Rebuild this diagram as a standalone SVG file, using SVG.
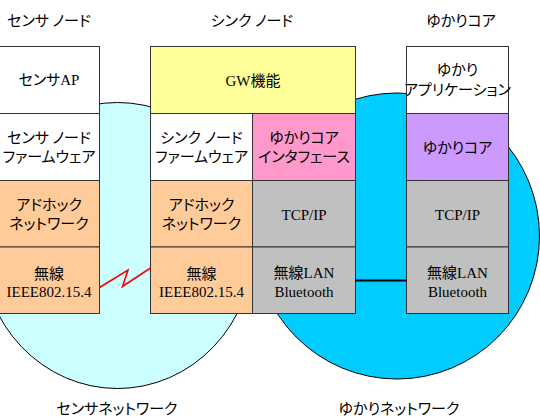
<svg xmlns="http://www.w3.org/2000/svg" width="540" height="417" viewBox="0 0 540 417">
<style>
.t{font-family:"Noto Sans CJK JP","Noto Sans",sans-serif;font-size:15px;font-feature-settings:"palt";text-anchor:middle;fill:#000}
.l{font-family:"Liberation Serif","Times New Roman",serif;font-feature-settings:normal}
.b{stroke:#333;stroke-width:1}
.net{stroke:#000;stroke-width:1}
</style>
<rect width="540" height="417" fill="#fff"/>
<g id="sensor-network">
<ellipse class="net" cx="117.5" cy="245.5" rx="136" ry="143" fill="#CCFFFF"/>
<text class="t" x="117" y="414">センサネットワーク</text>
</g>
<g id="yukari-network">
<ellipse class="net" cx="397" cy="236" rx="142.5" ry="143" fill="#00CCFF"/>
<text class="t" x="399" y="414">ゆかりネットワーク</text>
</g>
<g id="sensor-node">
<text class="t" x="49" y="26">センサ ノード</text>
<rect class="b" x="-1" y="46.5" width="100.5" height="67" fill="#fff"/>
<text class="t" x="49" y="85">センサ<tspan class="l">AP</tspan></text>
<rect class="b" x="-1" y="113.5" width="100.5" height="67" fill="#fff"/>
<text class="t" x="49" y="143">センサ ノード</text>
<text class="t" x="49" y="162">ファームウェア</text>
<rect class="b" x="-1" y="180.5" width="100.5" height="66.5" fill="#FFCC99"/>
<text class="t" x="49" y="210">アドホック</text>
<text class="t" x="49" y="229">ネットワーク</text>
<rect class="b" x="-1" y="247" width="100.5" height="66.5" fill="#FFCC99"/>
<text class="t" x="49" y="278.5">無線</text>
<text class="t l" x="49" y="297">IEEE802.15.4</text>
</g>
<g id="sink-node">
<text class="t" x="252" y="26">シンク ノード</text>
<rect class="b" x="150.5" y="46.5" width="205" height="67" fill="#FFFF99"/>
<text class="t" x="253" y="86"><tspan class="l">GW</tspan>機能</text>
<rect class="b" x="150.5" y="113.5" width="102" height="67" fill="#fff"/>
<text class="t" x="201.5" y="143">シンク ノード</text>
<text class="t" x="201.5" y="162">ファームウェア</text>
<rect class="b" x="252.5" y="113.5" width="103" height="67" fill="#FF99CC"/>
<text class="t" x="304" y="143">ゆかりコア</text>
<text class="t" x="304" y="162">インタフェース</text>
<rect class="b" x="150.5" y="180.5" width="102" height="66.5" fill="#FFCC99"/>
<text class="t" x="201.5" y="210">アドホック</text>
<text class="t" x="201.5" y="229">ネットワーク</text>
<rect class="b" x="252.5" y="180.5" width="103" height="66.5" fill="#C0C0C0"/>
<text class="t l" x="304" y="220">TCP/IP</text>
<rect class="b" x="150.5" y="247" width="102" height="66.5" fill="#FFCC99"/>
<text class="t" x="201.5" y="278.5">無線</text>
<text class="t l" x="201.5" y="297">IEEE802.15.4</text>
<rect class="b" x="252.5" y="247" width="103" height="66.5" fill="#C0C0C0"/>
<text class="t" x="304" y="278">無線<tspan class="l">LAN</tspan></text>
<text class="t l" x="304" y="296.5">Bluetooth</text>
</g>
<g id="yukari-core">
<text class="t" x="461" y="26">ゆかりコア</text>
<rect class="b" x="406.5" y="46.5" width="102" height="67" fill="#fff"/>
<text class="t" x="457.5" y="75">ゆかり</text>
<text class="t" x="457.5" y="95">アプリケーション</text>
<rect class="b" x="406.5" y="113.5" width="102" height="67" fill="#CC99FF"/>
<text class="t" x="457.5" y="153">ゆかりコア</text>
<rect class="b" x="406.5" y="180.5" width="102" height="66.5" fill="#C0C0C0"/>
<text class="t l" x="457.5" y="220">TCP/IP</text>
<rect class="b" x="406.5" y="247" width="102" height="66.5" fill="#C0C0C0"/>
<text class="t" x="457.5" y="278">無線<tspan class="l">LAN</tspan></text>
<text class="t l" x="457.5" y="296.5">Bluetooth</text>
</g>
<g id="connectors">
<polyline points="99.5,287.5 128,270 122.5,286.5 150.5,268" fill="none" stroke="#FF0000" stroke-width="1.6"/>
<line x1="355.5" y1="280.5" x2="406.5" y2="280.5" stroke="#000" stroke-width="2"/>
</g>
</svg>
